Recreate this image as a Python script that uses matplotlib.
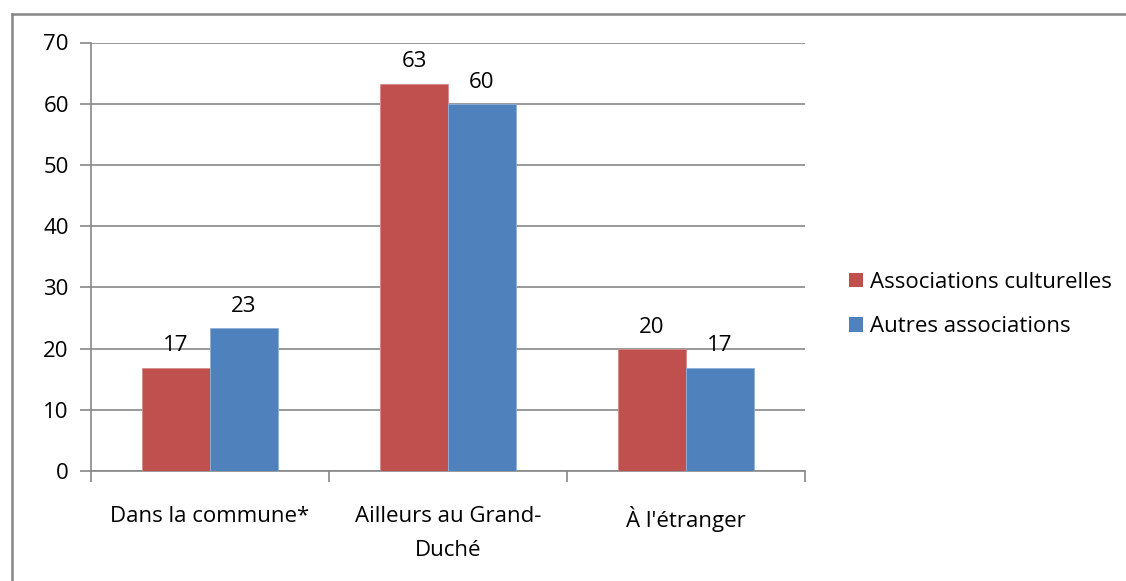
import matplotlib
matplotlib.use("Agg")
import matplotlib.pyplot as plt
from matplotlib.lines import Line2D
from matplotlib.patches import Patch
import numpy as np

plt.rcParams['font.family'] = ['Open Sans', 'DejaVu Sans']

categories = ["Dans la commune*", "Ailleurs au Grand-\nDuché", "À l'étranger"]
series_names = ["Associations culturelles", "Autres associations"]
culturelles = [16.8, 63.3, 19.9]
autres = [23.3, 59.9, 16.8]
y_ticks = [0, 10, 20, 30, 40, 50, 60, 70]

red = "#C0504D"
blue = "#4F81BD"
grey = "#878787"
fs = 16

fig = plt.figure(figsize=(11.26, 5.81), dpi=100)
ax = fig.add_axes([91 / 1126, 1 - 471 / 581, (805 - 91) / 1126, (471 - 42.5) / 581])

x = np.arange(len(categories))
w = 1 / 3.5
b1 = ax.bar(x - w / 2, culturelles, width=w, color=red, edgecolor="#D98B89", linewidth=0.6, zorder=3)
b2 = ax.bar(x + w / 2, autres, width=w, color=blue, edgecolor="#8FB0D9", linewidth=0.6, zorder=3)

for bars, vals in ((b1, culturelles), (b2, autres)):
    for rect, v in zip(bars, vals):
        ax.annotate(f"{v:.0f}", (rect.get_x() + rect.get_width() / 2, v),
                    xytext=(0, 12), textcoords="offset points",
                    ha="center", va="baseline", fontsize=fs, color="black", zorder=4)

ax.set_xlim(-0.5, 2.5)
ax.set_ylim(0, 70)
ax.set_yticks(y_ticks)
ax.set_yticklabels([str(t) for t in y_ticks], fontsize=fs)
ax.yaxis.grid(True, color=grey, linewidth=1.2, zorder=0)
ax.set_axisbelow(True)

# category labels centered, tick marks at category boundaries
ax.set_xticks(x)
ax.set_xticklabels(categories, fontsize=fs, linespacing=1.85)
ax.tick_params(axis="x", length=0, pad=25)
ax.set_xticks([-0.5, 0.5, 1.5, 2.5], minor=True)
ax.tick_params(axis="x", which="minor", length=8, width=1.2, color=grey)
ax.tick_params(axis="y", length=8, width=1.2, color=grey, pad=8)

for side in ("top", "right"):
    ax.spines[side].set_visible(False)
for side in ("left", "bottom"):
    ax.spines[side].set_color(grey)
    ax.spines[side].set_linewidth(1.2)

handles = [Patch(facecolor=red), Patch(facecolor=blue)]
fig.legend(handles, series_names, loc="upper left",
           bbox_to_anchor=(840 / 1126, 1 - 263 / 581), frameon=False,
           fontsize=fs, handlelength=0.65, handleheight=0.65,
           handletextpad=0.3, labelspacing=1.05, borderaxespad=0)

# outer chart border (left and top edges)
fig.add_artist(Line2D([12 / 1126, 12 / 1126], [0, 1 - 14 / 581], color=grey, linewidth=1.8))
fig.add_artist(Line2D([12 / 1126, 1], [1 - 14 / 581, 1 - 14 / 581], color=grey, linewidth=1.8))

fig.savefig("out.png", dpi=100)
